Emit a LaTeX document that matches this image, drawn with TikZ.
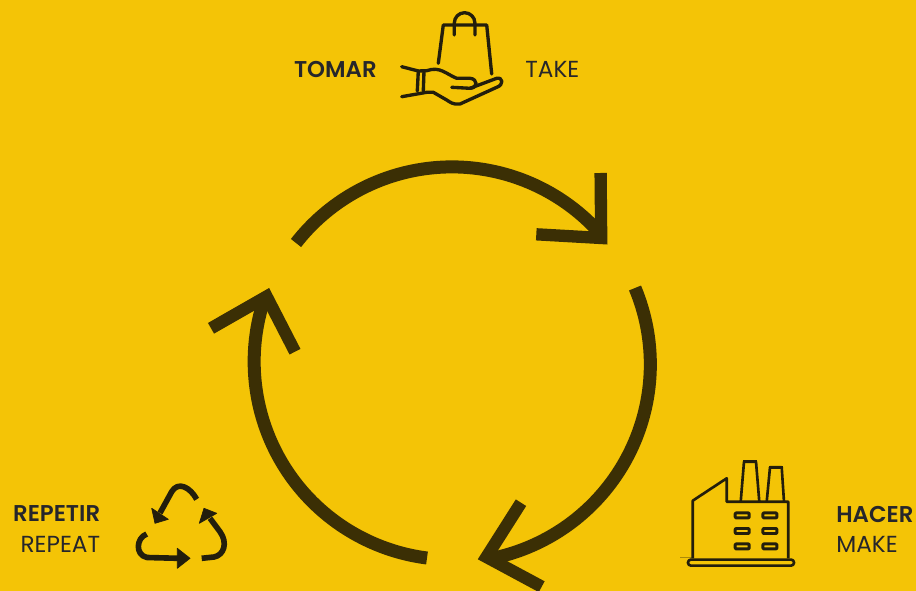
\documentclass[tikz,border=0pt]{standalone}
\usepackage{fontspec}
\setmainfont{Poppins}[BoldFont={Poppins SemiBold}]
\definecolor{backyellow}{HTML}{F4C406}
\definecolor{cycledark}{HTML}{3B2F05}
\definecolor{icondark}{HTML}{231E0C}
\definecolor{labeldark}{HTML}{26262B}
\tikzstyle{cycle line}=[cycledark, line width=7.4pt]
\tikzstyle{cycle head}=[cycledark, line width=7pt, line join=miter]
\tikzstyle{icon line}=[icondark, line width=1.9pt, line join=round, line cap=round]
\tikzstyle{icon thin}=[icondark, line width=1.5pt, line join=round]
\tikzstyle{icon bold}=[icondark, line width=3.2pt, line join=round]
\tikzstyle{icon tip}=[icondark, fill=icondark, line width=0.4pt, line join=round]
\tikzstyle{spanish}=[labeldark, inner sep=0pt, font=\fontsize{13}{14}\selectfont\bfseries]
\tikzstyle{english}=[labeldark, inner sep=0pt, font=\fontsize{13.2}{14}\selectfont]
\begin{document}
\begin{tikzpicture}[x=0.02cm, y=-0.02cm]
	\fill[backyellow] (0,0) rectangle (916,591);
	\useasboundingbox (0,0) rectangle (916,591);

	% Arrows of the cycle
	\coordinate (taketail) at (296,243);
	\coordinate (taketip) at (601.2,238);
	\coordinate (maketail) at (635,288);
	\coordinate (maketip) at (486.5,557);
	\coordinate (repeattail) at (427,558);
	\coordinate (repeattip) at (266.6,296.5);

	\draw[cycle line] (taketail) arc[start angle=-142, end angle=-43, radius=198];
	\draw[cycle head] (600.6,173) -- (taketip) -- (536.3,234.3);
	\draw[cycle line] (maketail) arc[start angle=-22.7, end angle=78.5, radius=198];
	\draw[cycle head] (521,502.7) -- (maketip) -- (541.7,586.7);
	\draw[cycle line] (repeattail) arc[start angle=97.3, end angle=198, radius=198];
	\draw[cycle head] (211,328.3) -- (repeattip) -- (295,351.7);

	% Bag and hand
	\draw[icon line] (438.3,63.3) -- (443.3,25) -- (486.7,25) -- (491.7,74);
	\draw[icon line] (454.3,35) -- (454.3,23) arc[start angle=180, end angle=360, radius=10.3] -- (475,35);
	\draw[icon line] (401.7,66.7) -- (418.3,71) -- (426.7,70.7) .. controls (440,66) and (446,74) .. (456.7,78.3)
		-- (470,78.3) .. controls (478,79) and (478,88) .. (470,88.3) -- (451.7,87.3);
	\draw[icon line] (470,88.3) -- (496.7,78.3) .. controls (503,77) and (504,85) .. (496.7,87.3)
		-- (460,104) .. controls (453,105) and (450,102) .. (446.7,100) -- (433.3,92.3) -- (426.7,92.3) -- (401.7,96.7);
	\draw[icon line] (418.3,71) -- (417.3,91);
	\draw[icon line] (424,71) -- (423.3,91);

	% Factory
	\draw[icon thin] (692.7,558.3) -- (692.7,500.7) -- (726.7,478.3) -- (726.7,501.7) -- (788.3,501.7) -- (788.3,558.3);
	\draw[icon thin, opacity=0.35, line width=0.8pt] (680,557.7) -- (692.7,557.7);
	\draw[icon thin, rounded corners=1.6pt] (688,559.6) rectangle (794,565.6);
	\draw[icon thin] (740.7,501.7) -- (744,461.7) -- (756,461.7) -- (759.3,501.7);
	\draw[icon thin] (766.7,501.7) -- (770,467.3) -- (781.7,467.3) -- (784,501.7);
	\fill[icondark] (743,460) rectangle (757,463);
	\fill[icondark] (769,465.5) rectangle (782.7,468.5);
	\foreach \y in {512.9, 528.5, 543.9}{
		\foreach \x in {735.2, 762.9}{
			\draw[icon thin, line width=1.7pt, rounded corners=0.5pt] (\x,\y) rectangle ++(14,5);
		}
	}

	% Recycling sign
	\draw[icon bold] (196.7,499.3) .. controls (190,487) and (178,481) .. (171.7,491.7) -- (160,513);
	\draw[icon tip] (151.7,508.3) -- (168.3,519.3) -- (155,523.3) -- cycle;
	\draw[icon bold] (201.7,558.3) -- (214,557) .. controls (224,555) and (228,543) .. (220,531.7) -- (210,518.3);
	\draw[icon tip] (204,508.3) -- (216.7,513.3) -- (199.3,523.3) -- cycle;
	\draw[icon bold] (146.7,534) .. controls (136,538) and (135,555) .. (147,557.5) -- (178,558.3);
	\draw[icon tip] (190,558.3) -- (177.3,548.3) -- (177.3,568.3) -- cycle;

	% Labels
	\node[spanish, anchor=east] (tomar) at (377,69) {TOMAR};
	\node[english, anchor=west] (take) at (525,69) {TAKE};
	\node[spanish, anchor=east] (repetir) at (100.5,514) {REPETIR};
	\node[english, anchor=east] (repeat) at (100.5,544) {REPEAT};
	\node[spanish, anchor=west] (hacer) at (836,514) {HACER};
	\node[english, anchor=west] (make) at (836,544) {MAKE};
\end{tikzpicture}
\end{document}
